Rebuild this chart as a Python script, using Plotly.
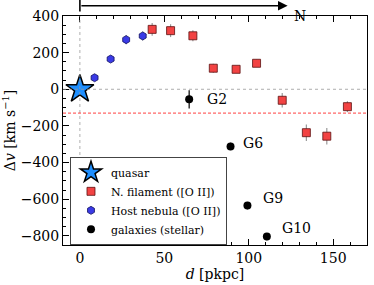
import plotly.graph_objects as go

# Data
quasar_d = [0]
quasar_v = [0]

host_d = [8.7, 18.2, 27.4, 37.2]
host_v = [63, 165, 271, 291]
host_err = [10, 10, 25, 25]

fil_d = [42.8, 53.7, 66.9, 79.0, 92.5, 104.6, 119.8, 134.1, 146.2, 158.4]
fil_v = [327, 320, 292, 115, 109, 142, -60, -237, -256, -95]
fil_err = [35, 35, 30, 25, 15, 20, 40, 45, 45, 30]

gal_d = [64.7, 89.2, 99.2, 110.7]
gal_v = [-55, -312, -635, -804]
gal_err = [50, 20, 20, 20]
gal_names = ["G2", "G6", "G9", "G10"]
gal_label_d = [81, 102.7, 114.5, 128]
gal_label_v = [-55, -293, -593, -757]

ref_line_v = -130
arrow_end_d = 123

FONT = "DejaVu Serif, Liberation Serif, serif"

fig = go.Figure()

fig.add_trace(go.Scatter(
    x=quasar_d, y=quasar_v, mode="markers", name="quasar",
    marker=dict(symbol="star", size=21, color="#1f8fff",
                line=dict(color="black", width=1.5)),
))
fig.add_trace(go.Scatter(
    x=fil_d, y=fil_v, mode="markers", name="N. filament ([O II])",
    marker=dict(symbol="square", size=8, color="#f24343",
                line=dict(color="#5a1010", width=0.8)),
    error_y=dict(type="data", array=fil_err, color="#999999", thickness=1.2, width=0),
))
fig.add_trace(go.Scatter(
    x=host_d, y=host_v, mode="markers", name="Host nebula ([O II])",
    marker=dict(symbol="hexagon", size=8, color="#3a3ae6",
                line=dict(color="#101060", width=0.8)),
    error_y=dict(type="data", array=host_err, color="#999999", thickness=1.2, width=0),
))
fig.add_trace(go.Scatter(
    x=gal_d, y=gal_v, mode="markers", name="galaxies (stellar)",
    marker=dict(symbol="circle", size=8, color="black"),
    error_y=dict(type="data", array=gal_err, color="black", thickness=1.2, width=0),
))

# reference lines
fig.add_hline(y=0, line=dict(color="#999999", width=0.8, dash="dot"))
fig.add_vline(x=0, line=dict(color="#999999", width=0.8, dash="dot"))
fig.add_hline(y=ref_line_v, line=dict(color="#ff2a2a", width=0.9, dash="3px,2px"))

for name, lx, ly in zip(gal_names, gal_label_d, gal_label_v):
    fig.add_annotation(x=lx, y=ly, text=name, showarrow=False,
                       font=dict(family=FONT, size=14, color="black"))

# direction arrow
fig.add_annotation(x=arrow_end_d, y=1.045, xref="x", yref="paper",
                   ax=0, ay=0, axref="x", ayref="pixel",
                   showarrow=True, arrowhead=2, arrowsize=1.2, arrowwidth=1.6,
                   arrowcolor="black", text="")
fig.add_shape(type="line", xref="x", yref="paper", x0=0, x1=0, y0=1.02, y1=1.07,
              line=dict(color="black", width=1.6))
fig.add_annotation(x=arrow_end_d + 2.5, y=1.045, xref="x", yref="paper",
                   text="N", showarrow=False, xanchor="left",
                   font=dict(family=FONT, size=14, color="black"))

axis_common = dict(
    showgrid=False, zeroline=False, showline=True, linecolor="black", linewidth=1,
    ticks="inside", ticklen=6, tickwidth=1, tickcolor="black",
    tickfont=dict(family=FONT, size=14, color="black"),
    automargin=False,
)

fig.update_xaxes(
    range=[-10, 170], tickvals=[0, 50, 100, 150], mirror="allticks",
    minor=dict(ticks="inside", ticklen=3, dtick=10, tick0=0, tickcolor="black"),
    title=dict(text="<i>d</i> [pkpc]", font=dict(family=FONT, size=14, color="black"), standoff=2),
    **axis_common,
)
fig.update_yaxes(
    range=[-850, 400], tickvals=[-800, -600, -400, -200, 0, 200, 400],
    ticktext=["\u2212800", "\u2212600", "\u2212400", "\u2212200", "0", "200", "400"],
    mirror=True,
    minor=dict(ticks="inside", ticklen=3, dtick=50, tick0=0, tickcolor="black"),
    title=dict(text="\u0394<i>v</i> [km s<sup>\u22121</sup>]", font=dict(family=FONT, size=14, color="black"), standoff=4),
    **axis_common,
)

fig.update_layout(
    width=374, height=285,
    margin=dict(l=63, r=7, t=16, b=40),
    plot_bgcolor="white", paper_bgcolor="white",
    showlegend=True,
    legend=dict(x=0.023, y=0.385, xanchor="left", yanchor="top",
                bgcolor="white", bordercolor="#444444", borderwidth=1,
                font=dict(family=FONT, size=11, color="black"),
                itemsizing="trace", tracegroupgap=0, itemwidth=30),
    font=dict(family=FONT),
)

fig.write_html("out.html", config={"displayModeBar": False},
               post_script="document.body.style.margin='0';")
